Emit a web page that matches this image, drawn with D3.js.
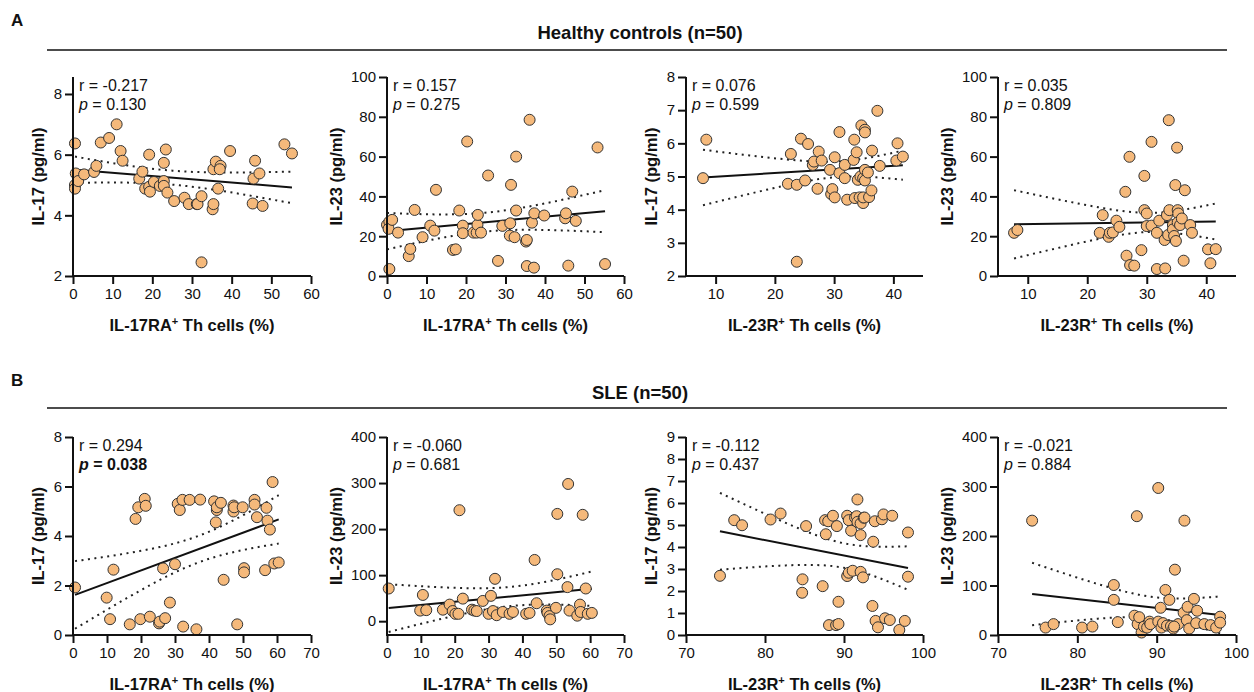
<!DOCTYPE html>
<html>
<head>
<meta charset="utf-8">
<script src="https://cdn.jsdelivr.net/npm/d3@7"></script>
<style>
  body { margin: 0; background: #fff; }
  text { font-family: "Liberation Sans", Arial, Helvetica, sans-serif; fill: #111; }
</style>
</head>
<body>
<svg id="chart" width="1254" height="692"></svg>
<script>
// ---- data ----
// Healthy controls: IL-17RA+ Th cells (%) vs IL-17
const hcRaX17 = [0.5,0.7,0.5,0.5,1.3,2.8,5.3,5.9,7.0,9.1,11.0,12.0,12.5,16.7,17.5,18.2,19.2,19.2,19.4,20.4,21.9,22.9,23.4,22.9,22.9,23.8,25.5,28.1,29.2,31.2,31.4,32.4,32.4,35.2,35.4,35.4,36.0,37.2,37.0,36.6,39.6,45.3,45.5,45.9,47.0,47.8,53.3,55.2];
const hcIl17A = [6.37,5.38,5.0,4.88,5.13,5.35,5.43,5.63,6.4,6.55,7.0,6.12,5.8,5.21,5.44,4.88,6.0,4.94,4.78,5.1,4.97,5.73,6.17,5.13,4.97,4.75,4.47,4.58,4.37,4.37,4.37,4.63,2.45,4.2,4.37,5.52,5.77,5.63,5.52,4.88,6.12,4.39,5.21,5.8,5.38,4.31,6.34,6.04];
// Healthy controls: IL-17RA+ vs IL-23
const hcRaX23 = [0.6,0,0.6,0.4,1.3,2.8,5.5,5.9,7.0,9.0,10.95,12.0,12.4,16.7,17.4,18.3,19.2,19.2,20.3,21.9,22.7,22.9,23.0,23.8,25.6,28.1,29.2,31.2,31.4,31.1,32.3,32.7,32.7,35.2,35.4,35.4,36.1,36.7,37.2,37.3,39.8,45.1,45.3,45.9,46.9,47.8,53.3,55.2];
const hcIl23A = [3.5,25.7,27.3,23.7,28.2,21.8,10,13.6,33.2,19.5,25.3,22.8,43.3,13.1,13.4,32.9,25.3,21.5,67.6,21.8,21.8,25.7,30.7,21.8,50.5,7.6,25.2,26.5,45.8,20.3,19.5,60,32.9,17.3,18.1,5,78.5,26.8,4.2,31.5,30.4,29,31.5,5.2,42.4,27.7,64.6,6];
// Healthy controls: IL-23R+ vs IL-17
const hcRX17 = [7.87,8.43,22.2,22.7,23.7,23.7,24.4,25.1,25.6,26.4,26.6,27.2,27.4,27.9,29.3,29.5,29.7,30.1,30.1,30.9,30.9,31.8,31.8,32.2,33.3,33.4,33.5,33.8,34.0,34.3,34.6,34.45,34.9,34.9,35.2,35.2,35.2,35.2,34.9,35.7,35.9,36.3,36.4,37.3,37.7,40.5,40.7,41.6];
const hcIl17B = [4.95,6.11,4.78,5.68,4.75,2.43,6.14,4.88,5.98,5.35,5.45,4.63,5.75,5.48,5.2,4.47,4.62,4.37,5.58,6.34,5.1,5.35,4.95,4.3,5.5,6.11,4.35,5.73,4.9,4.37,6.54,5.0,4.95,4.2,6.41,6.33,5.2,4.88,4.37,5.12,4.38,4.58,5.78,6.98,5.32,5.48,6.0,5.6];
// Healthy controls: IL-23R+ vs IL-23
const hcRX23 = [7.7,8.26,22.6,22.1,23.6,23.8,24.3,24.9,25.4,26.4,26.6,27.1,27.2,27.9,29.1,29.6,29.6,30.0,30.0,30.8,30.8,31.7,31.7,32.1,33.1,33.0,33.4,33.6,33.7,33.8,34.4,34.4,34.6,34.9,34.8,35.1,35.2,35.3,35.2,35.6,35.9,36.2,36.4,37.3,37.6,40.3,40.7,41.6];
const hcIl23B = [21.7,23.1,30.6,21.7,19.7,21.7,21.9,27.8,24.7,42.3,10.2,59.9,5.5,5.2,13,50.3,33.1,31.4,25.1,25.3,67.4,3.5,21.7,27.8,3.8,18.1,30.6,20.6,78.3,33.1,25.6,23.4,20.1,17.6,45.7,64.5,33.1,31.4,26.9,25.6,28.9,7.7,43.1,25.6,21.7,13.4,6.4,13.5];
// SLE: IL-17RA+ vs IL-17
const sleRaX17 = [0.6,9.9,10.9,11.9,16.7,18.4,19.2,19.8,21.1,21.4,22.6,25.3,25.5,26.5,27.1,28.5,30.0,30.8,31.4,32.2,32.4,34.3,36.3,37.4,41.5,42.0,42.3,42.3,43.5,44.3,47.2,47.2,47.4,48.3,49.9,50.3,50.3,53.4,53.4,54.1,56.5,56.9,57.2,57.9,58.7,59.2,60.5];
const sleIl17A = [1.92,1.51,0.64,2.64,0.43,4.69,5.16,0.64,5.5,5.22,0.74,0.47,0.54,2.69,0.68,1.31,2.86,5.3,5.05,5.46,0.34,5.46,0.23,5.47,5.4,4.55,5.05,5.16,5.34,2.23,5.23,4.99,5.16,0.43,5.16,2.7,2.53,5.46,5.27,4.76,2.62,5.14,4.62,4.26,6.18,2.89,2.93];
// SLE: IL-17RA+ vs IL-23
const sleRaX23 = [0.5,9.8,10.6,11.6,16.5,18.5,19.4,20.2,21.1,21.4,22.4,25.1,25.8,26.5,28.3,30.0,30.7,31.3,31.9,32.4,34.2,36.2,37.2,41.1,42.1,43.6,44.2,47.2,47.4,48.0,48.2,49.9,50.3,50.3,53.3,53.5,53.9,56.2,57.0,57.2,57.8,58.7,59.3,60.5];
const sleIl23A = [71,23,57,24,25,36,22,16,16,241,49,25,23,22,44,16,55,22,92,13,20,16,20,16,18,133,39,23,18,11,4,29,233,102,74,298,23,12,36,20,231,71,16,18];
// SLE: IL-23R+ vs IL-17
const sleRX17 = [74.3,76.1,77.1,80.7,81.97,84.75,84.7,85.2,87.3,87.6,87.7,88.0,88.1,88.6,89.0,89.1,89.3,89.3,90.4,90.4,90.6,90.6,90.9,91.1,91.4,91.6,91.7,91.7,92.1,92.1,92.1,92.4,92.5,92.6,93.6,93.7,93.9,94.0,94.3,94.8,95.0,95.2,95.8,96.1,97.0,97.7,98.1,98.1];
const sleIl17B = [2.69,5.22,4.99,5.25,5.52,2.53,1.92,4.95,2.22,5.22,4.58,5.17,0.45,5.42,0.45,4.95,0.5,1.51,5.42,2.68,5.22,2.83,4.74,2.92,5.34,5.4,6.16,5.14,5.07,4.54,2.87,2.62,5.33,5.34,1.32,4.24,5.17,0.64,0.35,5.26,5.48,0.76,0.68,5.42,0.23,0.64,4.66,2.65];
// SLE: IL-23R+ vs IL-23
const sleRX23 = [74.3,76.0,77.0,80.6,81.9,84.6,84.6,85.1,87.2,87.5,87.6,87.8,88.1,88.4,88.8,89.1,89.2,90.2,90.2,90.5,90.6,90.8,91.1,91.3,91.6,91.8,92.1,92.3,92.7,93.4,93.5,93.8,93.9,94.1,94.7,94.98,95.1,96.0,96.8,97.5,98.0,98.0,92.2];
const sleIl23B = [231,15,22,15,17,101,71,26,39,240,22,36,5,17,15,27,22,27,297,55,15,24,91,19,71,18,13,132,22,45,231,30,57,13,73,24,49,22,20,15,37,25,17];

const rValues = ["-0.217","0.157","0.076","0.035","0.294","-0.060","-0.112","-0.021"];
const pValues = ["0.130","0.275","0.599","0.809","0.038","0.681","0.437","0.884"];
const pBold = [false,false,false,false,true,false,false,false];

const ticksRA60 = [0,10,20,30,40,50,60];
const ticksRA70 = [0,10,20,30,40,50,60,70];
const ticksR45 = [10,20,30,40];
const ticksR100 = [70,80,90,100];
const ticksIl17 = [2,4,6,8];
const ticksIl17Low = [2,3,4,5,6,7,8];
const ticksIl23 = [0,20,40,60,80,100];
const ticksIl17Sle = [0,2,4,6,8];
const ticksIl17Sle9 = [0,1,2,3,4,5,6,7,8,9];
const ticksIl23Sle = [0,100,200,300,400];

const panels = [
  { xs: hcRaX17,  ys: hcIl17A,  xd: [0,60],  yd: [2,8.56], xt: ticksRA60, yt: ticksIl17,     xl: "RA", yl: "IL-17 (pg/ml)" },
  { xs: hcRaX23,  ys: hcIl23A,  xd: [0,60],  yd: [0,100],  xt: ticksRA60, yt: ticksIl23,     xl: "RA", yl: "IL-23 (pg/ml)" },
  { xs: hcRX17,   ys: hcIl17B,  xd: [5,45],  yd: [2,8],    xt: ticksR45,  yt: ticksIl17Low,  xl: "R",  yl: "IL-17 (pg/ml)" },
  { xs: hcRX23,   ys: hcIl23B,  xd: [5,45],  yd: [0,100],  xt: ticksR45,  yt: ticksIl23,     xl: "R",  yl: "IL-23 (pg/ml)" },
  { xs: sleRaX17, ys: sleIl17A, xd: [0,70],  yd: [0,8],    xt: ticksRA70, yt: ticksIl17Sle,  xl: "RA", yl: "IL-17 (pg/ml)" },
  { xs: sleRaX23, ys: sleIl23A, xd: [0,70],  yd: [-30,400],xt: ticksRA70, yt: ticksIl23Sle,  xl: "RA", yl: "IL-23 (pg/ml)" },
  { xs: sleRX17,  ys: sleIl17B, xd: [70,100],yd: [0,9],    xt: ticksR100, yt: ticksIl17Sle9, xl: "R",  yl: "IL-17 (pg/ml)" },
  { xs: sleRX23,  ys: sleIl23B, xd: [70,100],yd: [0,400],  xt: ticksR100, yt: ticksIl23Sle,  xl: "R",  yl: "IL-23 (pg/ml)" }
];

// plot boxes
const colsX = [[73,311],[387,624],[686,923],[998,1236]];
const rowsY = [[77,276],[437,635]];

const svg = d3.select("#chart");
const fmt = d3.format("~g");

// section headers
const sections = [
  { letter: "A", title: "Healthy controls (n=50)", y: 39, line: 50 },
  { letter: "B", title: "SLE (n=50)", y: 399, line: 408 }
];
sections.forEach(s => {
  svg.append("text").attr("x", 11).attr("y", s.y - 13).attr("font-size", 17).attr("font-weight", "bold").text(s.letter);
  svg.append("text").attr("x", 640).attr("y", s.y).attr("text-anchor", "middle")
    .attr("font-size", 18.5).attr("font-weight", "bold").text(s.title);
  svg.append("line").attr("x1", 47).attr("x2", 1227).attr("y1", s.line).attr("y2", s.line)
    .attr("stroke", "#111").attr("stroke-width", 1.6);
});

function regress(xs, ys) {
  const n = xs.length;
  const mx = d3.mean(xs), my = d3.mean(ys);
  let sxx = 0, sxy = 0;
  xs.forEach((x, i) => { sxx += (x - mx) ** 2; sxy += (x - mx) * (ys[i] - my); });
  const b = sxy / sxx, a = my - b * mx;
  let sse = 0;
  xs.forEach((x, i) => { sse += (ys[i] - a - b * x) ** 2; });
  const s = Math.sqrt(sse / (n - 2));
  const t = 2.012;
  return { a, b, n, mx, sxx, s, t };
}

panels.forEach((p, i) => {
  const col = i % 4, row = Math.floor(i / 4);
  const [x0, x1] = colsX[col], [y0, y1] = rowsY[row];
  const x = d3.scaleLinear().domain(p.xd).range([x0, x1]);
  const y = d3.scaleLinear().domain(p.yd).range([y1, y0]);
  const g = svg.append("g");

  // fit + 95% confidence band
  const f = regress(p.xs, p.ys);
  const lo = d3.min(p.xs), hi = d3.max(p.xs);
  const grid = d3.range(0, 61).map(k => lo + (hi - lo) * k / 60);
  const half = v => f.t * f.s * Math.sqrt(1 / f.n + (v - f.mx) ** 2 / f.sxx);
  const line = d3.line().x(d => x(d[0])).y(d => y(d[1]));
  [1, -1].forEach(sg => {
    g.append("path").datum(grid.map(v => [v, f.a + f.b * v + sg * half(v)]))
      .attr("d", line).attr("fill", "none").attr("stroke", "#222")
      .attr("stroke-width", 2).attr("stroke-dasharray", "2,4.5");
  });
  g.append("path").datum([[lo, f.a + f.b * lo], [hi, f.a + f.b * hi]])
    .attr("d", line).attr("fill", "none").attr("stroke", "#111").attr("stroke-width", 2);

  // points
  g.selectAll("circle").data(p.xs.map((v, k) => [v, p.ys[k]])).enter().append("circle")
    .attr("cx", d => x(d[0])).attr("cy", d => y(d[1])).attr("r", 5.5)
    .attr("fill", "#f5b97b").attr("stroke", "#333").attr("stroke-width", 1);

  // axes
  const ax = g.append("g").attr("transform", `translate(0,${y1})`)
    .call(d3.axisBottom(x).tickValues(p.xt).tickFormat(fmt).tickSize(8).tickPadding(4).tickSizeOuter(0));
  const ay = g.append("g").attr("transform", `translate(${x0},0)`)
    .call(d3.axisLeft(y).tickValues(p.yt).tickFormat(fmt).tickSize(8).tickPadding(3).tickSizeOuter(0));
  [ax, ay].forEach(a => {
    a.select(".domain").attr("stroke", "#111").attr("stroke-width", 2);
    a.selectAll(".tick line").attr("stroke", "#111").attr("stroke-width", 2);
    a.selectAll(".tick text").attr("font-size", 15).attr("fill", "#111")
      .attr("font-family", '"Liberation Sans", Arial, sans-serif');
  });
  // make the axis lines meet cleanly at the corner
  ay.select(".domain").attr("d", `M0,${y1 + 1}V${y0}`);
  ax.select(".domain").attr("d", `M${x0 - 1},0H${x1}`);

  const maxW = d3.max(ay.selectAll(".tick text").nodes(), n => n.getBBox().width);

  // axis titles
  const xt = g.append("text").attr("x", (x0 + x1) / 2).attr("y", y1 + 55)
    .attr("text-anchor", "middle").attr("font-size", 16.5).attr("font-weight", "bold");
  xt.append("tspan").text(p.xl === "RA" ? "IL-17RA" : "IL-23R");
  xt.append("tspan").attr("font-size", 11).attr("dy", -6).text("+");
  xt.append("tspan").attr("dy", 6).text(" Th cells (%)");

  g.append("text").attr("transform", `translate(${x0 - maxW - 26},${(y0 + y1) / 2}) rotate(-90)`)
    .attr("text-anchor", "middle").attr("dy", "0.35em")
    .attr("font-size", 16.5).attr("font-weight", "bold").text(p.yl);

  // stats
  g.append("text").attr("x", x0 + 6).attr("y", y0 + 14).attr("font-size", 16).text("r = " + rValues[i]);
  const pt = g.append("text").attr("x", x0 + 6).attr("y", y0 + 33).attr("font-size", 16)
    .attr("font-weight", pBold[i] ? "bold" : "normal");
  pt.append("tspan").attr("font-style", "italic").text("p");
  pt.append("tspan").text(" = " + pValues[i]);
});
</script>
</body>
</html>
